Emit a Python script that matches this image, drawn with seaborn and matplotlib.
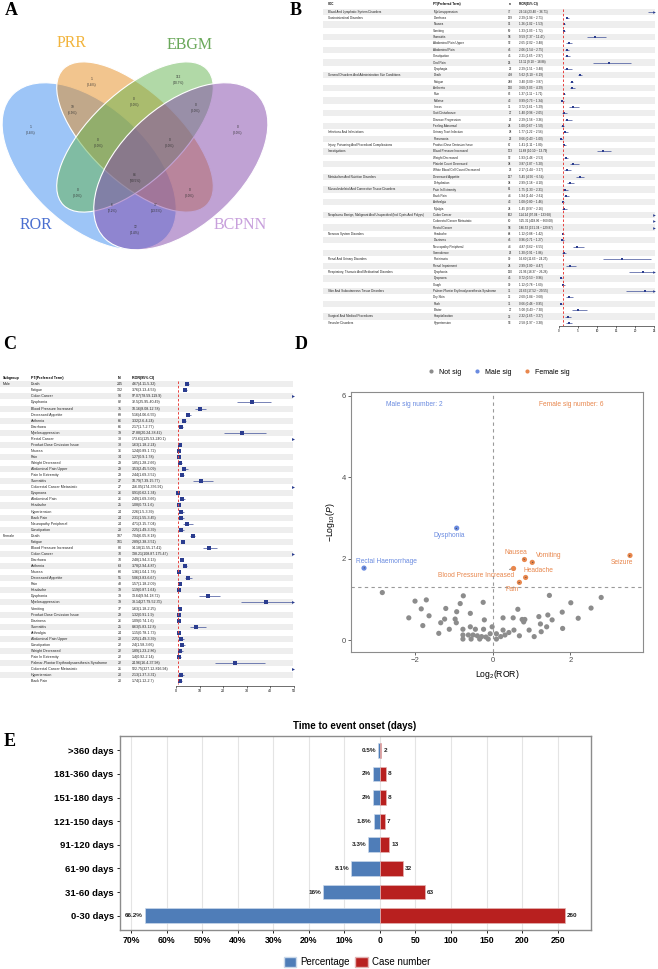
import matplotlib
matplotlib.use("Agg")
import numpy as np
import pandas as pd
import matplotlib.pyplot as plt
from matplotlib.patches import Ellipse, Patch
from matplotlib.colors import to_rgba
import seaborn as sns

# ---------------- data ----------------
# A : Venn of the four signal methods
venn_names = ["ROR", "PRR", "EBGM", "BCPNN"]
venn_counts = [1, 1, 112, 0, 19, 0, 0, 0, 0, 84, 0, 0, 6, 37, 12]
venn_pcts = [0.4, 0.4, 40.7, 0.0, 6.9, 0.0, 0.0, 0.0, 0.0, 30.5, 0.0, 0.0, 2.2, 13.5, 4.4]

# B : SOC / PT forest table
b_soc_names = ["Blood And Lymphatic System Disorders", "Gastrointestinal Disorders",
               "General Disorders And Administration Site Conditions", "Infections And Infestations",
               "Injury, Poisoning And Procedural Complications", "Investigations",
               "Metabolism And Nutrition Disorders", "Musculoskeletal And Connective Tissue Disorders",
               "Neoplasms Benign, Malignant And Unspecified (Incl Cysts And Polyps)",
               "Nervous System Disorders", "Renal And Urinary Disorders",
               "Respiratory, Thoracic And Mediastinal Disorders", "Skin And Subcutaneous Tissue Disorders",
               "Surgical And Medical Procedures", "Vascular Disorders"]
b_soc_sizes = [1, 9, 9, 2, 1, 4, 2, 4, 3, 4, 2, 3, 4, 1, 1]
b_pt = ["Myelosuppression", "Diarrhoea", "Nausea", "Vomiting", "Stomatitis", "Abdominal Pain Upper",
        "Abdominal Pain", "Constipation", "Oral Pain", "Dysphagia", "Death", "Fatigue", "Asthenia", "Pain",
        "Malaise", "Illness", "Gait Disturbance", "Disease Progression", "Feeling Abnormal",
        "Urinary Tract Infection", "Pneumonia", "Product Dose Omission Issue", "Blood Pressure Increased",
        "Weight Decreased", "Platelet Count Decreased", "White Blood Cell Count Decreased",
        "Decreased Appetite", "Dehydration", "Pain In Extremity", "Back Pain", "Arthralgia", "Myalgia",
        "Colon Cancer", "Colorectal Cancer Metastatic", "Rectal Cancer", "Headache", "Dizziness",
        "Neuropathy Peripheral", "Somnolence", "Proteinuria", "Renal Impairment", "Dysphonia", "Dyspnoea",
        "Cough", "Palmar-Plantar Erythrodysaesthesia Syndrome", "Dry Skin", "Rash", "Blister",
        "Hospitalisation", "Hypertension"]
b_n = [77, 139, 96, 69, 58, 52, 46, 45, 25, 22, 438, 248, 130, 83, 43, 31, 27, 26, 24, 28, 22, 67, 173, 52,
       38, 23, 127, 38, 61, 44, 43, 24, 162, 60, 58, 68, 46, 44, 26, 30, 24, 120, 45, 30, 31, 32, 31, 27, 33, 53]
b_est = [29.14, 2.29, 1.26, 1.33, 9.59, 2.65, 2.06, 2.21, 13.11, 2.29, 5.62, 3.40, 3.60, 1.37, 0.99, 3.72,
         1.40, 2.29, 1.00, 1.77, 0.66, 1.41, 11.68, 1.93, 3.87, 2.17, 5.45, 2.99, 1.75, 1.94, 1.08, 1.45,
         114.24, 525.31, 186.52, 1.12, 0.96, 4.87, 1.30, 16.60, 2.99, 21.96, 0.72, 1.12, 22.63, 2.60, 0.66,
         5.00, 2.32, 2.58]
b_lo = [23.40, 1.94, 1.02, 1.03, 7.37, 2.02, 1.54, 1.65, 9.10, 1.51, 5.10, 3.00, 3.03, 1.11, 0.73, 2.61,
        0.96, 1.56, 0.67, 1.22, 0.43, 1.11, 10.10, 1.46, 2.87, 1.44, 4.56, 2.18, 1.33, 1.44, 0.80, 0.97,
        97.04, 418.06, 151.34, 0.88, 0.71, 3.62, 0.91, 11.63, 2.00, 18.37, 0.53, 0.78, 17.52, 1.84, 0.46,
        3.43, 1.65, 1.97]
b_hi = [36.71, 2.71, 1.53, 1.72, 12.47, 3.48, 2.75, 2.97, 18.88, 3.48, 6.19, 3.87, 4.29, 1.71, 1.34, 5.29,
        2.05, 3.36, 1.50, 2.56, 1.00, 1.80, 13.79, 2.53, 5.20, 3.27, 6.54, 4.10, 2.31, 2.61, 1.46, 2.16,
        133.68, 660.08, 229.87, 1.42, 1.27, 6.55, 1.86, 24.25, 4.47, 26.26, 0.96, 1.60, 29.55, 3.68, 0.95,
        7.30, 3.27, 3.38]

# C : subgroup (sex) forest table
c_group_names = ["Male", "Female"]
c_group_sizes = [25, 25]
c_pt = ["Death", "Fatigue", "Colon Cancer", "Dysphonia", "Blood Pressure Increased", "Decreased Appetite",
        "Asthenia", "Diarrhoea", "Myelosuppression", "Rectal Cancer", "Product Dose Omission Issue", "Nausea",
        "Pain", "Weight Decreased", "Abdominal Pain Upper", "Pain In Extremity", "Stomatitis",
        "Colorectal Cancer Metastatic", "Dyspnoea", "Abdominal Pain", "Headache", "Hypertension", "Back Pain",
        "Neuropathy Peripheral", "Constipation",
        "Death", "Fatigue", "Blood Pressure Increased", "Colon Cancer", "Diarrhoea", "Asthenia", "Nausea",
        "Decreased Appetite", "Pain", "Headache", "Dysphonia", "Myelosuppression", "Vomiting",
        "Product Dose Omission Issue", "Dizziness", "Stomatitis", "Arthralgia", "Abdominal Pain Upper",
        "Constipation", "Weight Decreased", "Pain In Extremity", "Palmar-Plantar Erythrodysaesthesia Syndrome",
        "Colorectal Cancer Metastatic", "Hypertension", "Back Pain"]
c_n = [245, 132, 90, 82, 75, 69, 66, 66, 39, 38, 38, 36, 34, 29, 29, 29, 27, 27, 26, 26, 25, 24, 24, 24, 23,
       187, 101, 80, 70, 70, 63, 60, 51, 48, 39, 39, 39, 37, 29, 26, 25, 24, 23, 22, 22, 22, 22, 21, 20, 20]
c_est = [4.67, 3.76, 97.07, 32.5, 10.16, 5.16, 3.32, 2.17, 27.88, 173.61, 1.63, 1.24, 1.27, 1.85, 3.53, 2.44,
         10.79, 256.05, 0.91, 2.49, 1.08, 2.26, 2.31, 4.71, 2.25,
         7.04, 2.89, 14.18, 138.21, 2.48, 3.78, 1.36, 5.06, 1.57, 1.19, 13.64, 38.14, 1.63, 1.32, 1.09, 8.63,
         1.15, 2.25, 2.4, 1.89, 1.4, 24.96, 522.75, 2.13, 1.74]
c_lo = [4.11, 3.13, 78.59, 25.95, 8.08, 4.06, 2.6, 1.7, 20.24, 125.53, 1.18, 0.89, 0.9, 1.28, 2.45, 1.69,
        7.39, 174, 0.62, 1.69, 0.73, 1.5, 1.55, 3.15, 1.49,
        6.05, 2.38, 11.55, 108.87, 1.94, 2.94, 1.04, 3.83, 1.18, 0.87, 9.94, 27.79, 1.18, 0.91, 0.74, 5.83,
        0.78, 1.49, 1.58, 1.23, 0.92, 16.4, 327.12, 1.37, 1.12]
c_hi = [5.32, 4.53, 119.9, 40.49, 12.78, 6.55, 4.24, 2.77, 38.42, 240.1, 2.24, 1.72, 1.78, 2.66, 5.09, 3.52,
        15.77, 376.91, 1.34, 3.66, 1.6, 3.39, 3.45, 7.04, 3.39,
        8.18, 3.51, 17.41, 175.47, 3.13, 4.87, 1.78, 6.67, 2.09, 1.64, 18.72, 52.35, 2.25, 1.9, 1.6, 12.8,
        1.73, 3.39, 3.66, 2.86, 2.14, 37.98, 816.94, 3.31, 2.7]

# D : volcano (sex difference)
sig_names = ["Rectal Haemorrhage", "Dysphonia", "Nausea", "Vomiting", "Blood Pressure Increased",
             "Headache", "Pain", "Seizure"]
sig_x = [-3.30, -0.92, 0.82, 1.02, 0.54, 0.85, 0.69, 3.53]
sig_y = [1.77, 2.75, 1.98, 1.91, 1.76, 1.54, 1.42, 2.08]
sig_group = ["Male sig", "Male sig", "Female sig", "Female sig", "Female sig", "Female sig", "Female sig",
             "Female sig"]
ns_x = [-2.83, -1.99, -1.70, -1.83, -2.15, -1.63, -1.20, -1.23, -0.96, -0.92, -0.83, -0.75, -0.57, -0.24,
        -0.21, 0.27, 0.53, 0.65, 0.76, 0.83, 1.19, 1.42, 1.46, 1.79, 2.01, 2.53, 2.79, 2.20, 1.53,
        -1.79, -1.38, -1.33, -1.11, -0.93, -0.76, -0.76, -0.76, -0.62, -0.50, -0.39, -0.28, -0.17, -0.11,
        -0.33, -0.55, -0.06, -0.23, -0.44, 0.10, 0.21, 0.32, 0.42, 0.55, 0.69, 0.80, 0.94, 1.07, 1.23, 1.25,
        1.39, 1.80, -0.01, -0.57, 0.10, 0.27]
ns_y = [1.17, 0.96, 0.99, 0.77, 0.55, 0.60, 0.78, 0.52, 0.52, 0.70, 0.90, 1.09, 0.66, 0.93, 0.50, 0.55,
        0.55, 0.76, 0.51, 0.51, 0.58, 0.62, 1.10, 0.69, 0.92, 0.79, 1.05, 0.54, 0.50,
        0.36, 0.17, 0.43, 0.27, 0.43, 0.27, 0.13, 0.03, 0.13, 0.13, 0.11, 0.09, 0.08, 0.03, 0.03, 0.03,
        0.16, 0.27, 0.27, 0.03, 0.09, 0.13, 0.19, 0.25, 0.11, 0.45, 0.25, 0.09, 0.40, 0.21, 0.33, 0.29,
        0.33, 0.33, 0.16, 0.25]

# E : time to onset
e_cats = [">360 days", "181-360 days", "151-180 days", "121-150 days", "91-120 days", "61-90 days",
          "31-60 days", "0-30 days"]
e_pct = [0.5, 2, 2, 1.8, 3.3, 8.1, 16, 66.2]
e_cases = [2, 8, 8, 7, 13, 32, 63, 260]

# ---------------- layout ----------------
W, H = 658, 969
plt.rcParams["font.family"] = ["Liberation Sans", "DejaVu Sans"]
plt.rcParams["mathtext.fontset"] = "custom"
plt.rcParams["mathtext.rm"] = "Liberation Sans"
plt.rcParams["mathtext.it"] = "Liberation Sans:italic"
SERIF = ["Liberation Serif", "DejaVu Serif"]

fig = plt.figure(figsize=(W / 100, H / 100), dpi=100)


def px_axes(x0, y0, x1, y1):
    return fig.add_axes([x0 / W, 1 - y1 / H, (x1 - x0) / W, (y1 - y0) / H])


def expand(names, sizes):
    out = []
    for name, k in zip(names, sizes):
        out += [name] + [""] * (k - 1)
    return out


NAVY = "#2b3d8f"


def forest_table(box, band, fbox, xmax, xticks, hdr_y, row0, dy, cols, headers, groups, pts, ns, txts,
                 est, lo, hi, fs, msize):
    x0, y0, x1, y1 = box
    n = len(pts)
    rows = np.arange(n)

    def ridx(py):
        return (py - row0) / dy

    tab = px_axes(x0, y0, x1, y1)
    tab.set_xlim(x0, x1)
    tab.set_ylim(ridx(y1), ridx(y0))
    tab.axis("off")
    for i in range(0, n, 2):
        tab.fill_between(band, i - 0.5, i + 0.5, color="#eeeeee", lw=0)
    hy = ridx(hdr_y)
    aligns = ["left", "left", "center", "left"]
    for cx, h, ha in zip(cols, headers, aligns):
        tab.text(cx, hy, h, fontsize=fs, fontweight="bold", ha=ha, va="center")
    for i in range(n):
        vals = [groups[i], pts[i], str(ns[i]), txts[i]]
        for cx, v, ha in zip(cols, vals, aligns):
            tab.text(cx, i, v, fontsize=fs, ha=ha, va="center", color="#222222")

    fx0, fx1, ax_y = fbox
    fa = px_axes(fx0, y0, fx1, ax_y)
    fa.patch.set_alpha(0)
    sns.scatterplot(x=est, y=rows, ax=fa, marker="s", s=msize, color=NAVY, linewidth=0, legend=False)
    est = np.asarray(est)
    lo = np.asarray(lo)
    hi = np.asarray(hi)
    fa.hlines(rows, np.clip(lo, 0, xmax), np.clip(hi, 0, xmax), color=NAVY, lw=0.45)
    over = hi > xmax
    fa.scatter(np.full(over.sum(), xmax * 0.995), rows[over], marker=">", s=msize * 0.9, color=NAVY,
               linewidth=0, clip_on=False)
    fa.vlines(1, -0.5, n - 0.5, colors="#e8423f", linestyles=(0, (2.5, 2)), lw=0.7)
    fa.set_xlim(0, xmax)
    fa.set_ylim(ridx(ax_y), ridx(y0))
    for s in ["top", "left", "right"]:
        fa.spines[s].set_visible(False)
    fa.spines["bottom"].set_linewidth(0.4)
    fa.set_yticks([])
    fa.set_xticks(xticks)
    fa.tick_params(axis="x", labelsize=fs, length=1.5, width=0.4, pad=1)
    fa.set_xlabel("")
    fa.set_ylabel("")


# ---------------- A : Venn ----------------
venn_ellipses = [(0.35, 0.47, 0.35, 0.20, 135), (0.50, 0.57, 0.33, 0.15, 135),
                 (0.50, 0.57, 0.33, 0.15, 45), (0.65, 0.47, 0.35, 0.20, 45)]
venn_fill = ["#3c8cf0", "#e68c1e", "#64b450", "#8246aa"]
venn_text_col = ["#4a6fd0", "#f2b43c", "#6aa85a", "#c8a0dc"]
venn_name_pos = [(0.176, 0.268), (0.294, 0.891), (0.680, 0.884), (0.843, 0.270)]
venn_label_pos = [(0.157, 0.594), (0.359, 0.758), (0.641, 0.765), (0.837, 0.594), (0.294, 0.662),
                  (0.497, 0.690), (0.699, 0.669), (0.379, 0.550), (0.614, 0.550), (0.500, 0.430),
                  (0.313, 0.379), (0.680, 0.379), (0.425, 0.328), (0.569, 0.328), (0.500, 0.253)]

va = px_axes(0, 31.5, 270, 254.2)
va.set_xlim(0.058, 0.942)
va.set_ylim(0.17, 0.93)
va.axis("off")
for (cx, cy, a, b, ang), col in zip(venn_ellipses, venn_fill):
    va.add_patch(Ellipse((cx, cy), 2 * a, 2 * b, angle=ang, facecolor=to_rgba(col, 0.5),
                         edgecolor="white", lw=0.8))
for (px, py), cnt, pc in zip(venn_label_pos, venn_counts, venn_pcts):
    va.text(px, py, f"{cnt}\n({pc:.1f}%)", fontsize=2.3, ha="center", va="center", color="#333333",
            linespacing=1.7)
for (px, py), name, col in zip(venn_name_pos, venn_names, venn_text_col):
    va.text(px, py, name, fontsize=11.5, ha="center", va="center", color=col, family=SERIF)

# ---------------- B ----------------
b_groups = expand(b_soc_names, b_soc_sizes)
b_txt = [f"{e:.2f} ({l:.2f} ~ {h:.2f})" for e, l, h in zip(b_est, b_lo, b_hi)]
forest_table(box=(320, 0, 658, 332), band=(323, 654.5), fbox=(558.7, 654.3, 326), xmax=25,
             xticks=[0, 5, 10, 15, 20, 25], hdr_y=4.3, row0=11.7, dy=6.35,
             cols=[328, 433.3, 510, 518.7], headers=["SOC", "PT(Preferred Term)", "n", "ROR(95% CI)"],
             groups=b_groups, pts=b_pt, ns=b_n, txts=b_txt, est=b_est, lo=b_lo, hi=b_hi, fs=2.2, msize=4)

# ---------------- C ----------------
c_groups = expand(c_group_names, c_group_sizes)
c_txt = [f"{e:g}({l:g}-{h:g})" for e, l, h in zip(c_est, c_lo, c_hi)]
forest_table(box=(0, 370, 300, 692), band=(0, 292.7), fbox=(176, 293.5, 685.7), xmax=50,
             xticks=[0, 10, 20, 30, 40, 50], hdr_y=378.3, row0=384.3, dy=6.06,
             cols=[2.7, 30.7, 119.5, 131.7], headers=["Subgroup", "PT(Preferred Term)", "N", "ROR(95% CI)"],
             groups=c_groups, pts=c_pt, ns=c_n, txts=c_txt, est=c_est, lo=c_lo, hi=c_hi, fs=2.6, msize=5)

# ---------------- D : volcano ----------------
SIG_COLORS = {"Not sig": "#8c8c8c", "Male sig": "#6a8be0", "Female sig": "#e8874d"}
label_offsets = [(0.57, 0.17), (-0.20, -0.17), (-0.21, 0.17), (0.42, 0.16), (-0.96, -0.18),
                 (0.32, 0.18), (-0.19, -0.17), (-0.20, -0.17)]

vdf = pd.concat([pd.DataFrame({"x": ns_x, "y": ns_y, "group": "Not sig"}),
                 pd.DataFrame({"x": sig_x, "y": sig_y, "group": sig_group})], ignore_index=True)
dax = px_axes(350.7, 392.3, 643.3, 651.7)
sns.scatterplot(data=vdf, x="x", y="y", hue="group", hue_order=list(SIG_COLORS),
                palette=SIG_COLORS, s=14, linewidth=0, ax=dax)
xr = vdf["x"].max() - vdf["x"].min()
dax.set_xlim(vdf["x"].min() - 0.05 * xr, vdf["x"].max() + 0.05 * xr)
dax.set_ylim(-0.28, 6.08)
dax.axhline(-np.log10(0.05), color="#9a9a9a", ls=(0, (3, 3)), lw=0.8)
dax.axvline(0, color="#9a9a9a", ls=(0, (3, 3)), lw=0.8)
for name, x, y, g, (ox, oy) in zip(sig_names, sig_x, sig_y, sig_group, label_offsets):
    dax.annotate(name, (x, y), xytext=(x + ox, y + oy), fontsize=4.8, color=SIG_COLORS[g],
                 ha="center", va="center",
                 arrowprops=dict(arrowstyle="-", color="#333333", lw=0.5, shrinkA=1, shrinkB=2))
dax.text(-2.02, 5.79, f"Male sig number: {sig_group.count('Male sig')}", color=SIG_COLORS["Male sig"],
         fontsize=4.8, ha="center", va="center")
dax.text(2.01, 5.79, f"Female sig number: {sig_group.count('Female sig')}", color=SIG_COLORS["Female sig"],
         fontsize=4.8, ha="center", va="center")
dax.set_xticks([-2, 0, 2])
dax.set_yticks([0, 2, 4, 6])
dax.tick_params(labelsize=5.5, colors="#4d4d4d", length=2, width=0.6, pad=1.5)
for s in dax.spines.values():
    s.set_color("#8c8c8c")
    s.set_linewidth(0.8)
dax.set_xlabel("Log$_2$(ROR)", fontsize=6.2, labelpad=3)
dax.set_ylabel("$-$Log$_{10}$($P$)", fontsize=6.2, labelpad=3)
handles, labels = dax.get_legend_handles_labels()
dax.legend(handles, labels, loc="center", bbox_to_anchor=(0.5, 1 + 20 / 259.4), ncol=3, frameon=False,
           fontsize=5, markerscale=0.8, handletextpad=0.1, columnspacing=1.3)

# ---------------- E : time to onset ----------------
BLUE, RED = "#4f7db8", "#b8201f"
PCT_SCALE = 5  # 10% on the left mirrors 50 cases on the right
eax = px_axes(120, 736, 590.7, 930)
eax.set_axisbelow(True)
sns.barplot(x=[-p * PCT_SCALE for p in e_pct], y=e_cats, order=e_cats, orient="h", color=BLUE,
            saturation=1, width=0.62, edgecolor="#c9d8ea", linewidth=0.5, ax=eax)
sns.barplot(x=e_cases, y=e_cats, order=e_cats, orient="h", color=RED, saturation=1, width=0.62,
            edgecolor="#e3b3b3", linewidth=0.5, ax=eax)
for i, (p, c) in enumerate(zip(e_pct, e_cases)):
    eax.annotate(f"{p:g}%", (-p * PCT_SCALE, i), xytext=(-1.5, 0), textcoords="offset points",
                 ha="right", va="center", fontsize=4.6, fontweight="bold", color="#222222")
    eax.annotate(f"{c}", (c, i), xytext=(1.5, 0), textcoords="offset points",
                 ha="left", va="center", fontsize=4.6, fontweight="bold", color="#222222")
xt = list(range(-350, 251, 50))
eax.set_xticks(xt)
eax.set_xticklabels([f"{int(-v / PCT_SCALE)}%" if v < 0 else str(v) for v in xt])
eax.set_xlim(-365.7, 296.5)
eax.set_ylim(7.6, -0.6)
eax.grid(axis="x", color="#e4e4e4", lw=0.8)
eax.tick_params(axis="x", labelsize=6.3, length=2.5, width=0.6, pad=2)
eax.tick_params(axis="y", labelsize=6.8, length=2.5, width=0.6, pad=2)
for lab in eax.get_xticklabels() + eax.get_yticklabels():
    lab.set_fontweight("bold")
for s in eax.spines.values():
    s.set_color("#8c8c8c")
    s.set_linewidth(1.0)
eax.set_xlabel("")
eax.set_ylabel("")
fig.text(355 / W, 1 - 726 / H, "Time to event onset (days)", fontsize=7, fontweight="bold",
         ha="center", va="center")
fig.legend(handles=[Patch(facecolor=BLUE, edgecolor="#c9d8ea", label="Percentage"),
                    Patch(facecolor=RED, edgecolor="#e3b3b3", label="Case number")],
           loc="center", bbox_to_anchor=(357 / W, 1 - 962 / H), ncol=2, frameon=False, fontsize=7,
           handlelength=1.3, handleheight=1.3, columnspacing=0.6, handletextpad=0.4)

# ---------------- panel letters ----------------
for letter, px, py in [("A", 5, 10.5), ("B", 290, 10.5), ("C", 3, 344.5), ("D", 295, 344.5),
                       ("E", 4, 741.5)]:
    fig.text(px / W, 1 - py / H, letter, fontsize=13, fontweight="bold", family=SERIF,
             ha="left", va="center")

fig.savefig("out.png", dpi=100)
